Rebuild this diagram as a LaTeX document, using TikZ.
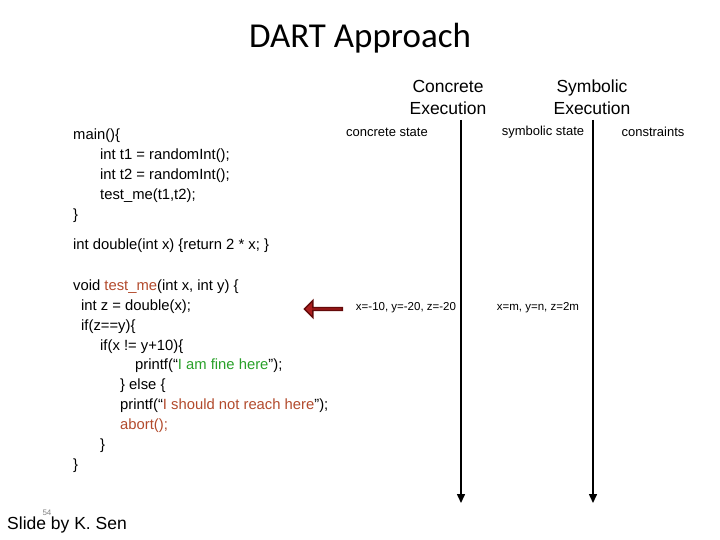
\documentclass[tikz,border=0pt]{standalone}
\usepackage{fontspec}
\setmainfont{Liberation Sans}
\newfontfamily\titlefont{Carlito}
\usetikzlibrary{arrows.meta,shapes.arrows}
\definecolor{codered}{RGB}{178,74,44}
\definecolor{codegreen}{RGB}{40,160,40}
\definecolor{arrowdark}{RGB}{100,10,10}
\definecolor{arrowred}{RGB}{170,30,30}

\tikzset{
  code/.style={anchor=west, inner sep=0pt, font=\fontsize{14.8}{16}\selectfont},
  head/.style={align=center, inner sep=0pt, font=\fontsize{17.5}{22}\selectfont},
  colhead/.style={inner sep=0pt, font=\fontsize{13}{15}\selectfont},
  state/.style={inner sep=0pt, font=\fontsize{11.5}{13}\selectfont},
  timeline/.style={-{Triangle[length=9pt,width=8pt]}, line width=1.5pt}
}

\begin{document}
\begin{tikzpicture}[x=1pt, y=-1pt]
    \useasboundingbox (0,0) rectangle (720,540);

    % Title
    \node[font=\titlefont\fontsize{35}{38}\selectfont] (title) at (360,38) {DART Approach};

    % Column headings
    \node[head] (conc) at (448,97) {Concrete\\Execution};
    \node[head] (symb) at (592,97) {Symbolic\\Execution};
    \node[colhead] (cstate) at (387,132) {concrete state};
    \node[colhead] (sstate) at (543,132) {symbolic state};
    \node[colhead] (cons) at (653,132) {constraints};

    % Time lines
    \coordinate (ctop) at (461,120);
    \coordinate (cbot) at (461,503);
    \coordinate (stop) at (593,120);
    \coordinate (sbot) at (593,503);
    \draw[timeline] (ctop) -- (cbot);
    \draw[timeline] (stop) -- (sbot);

    % Program
    \node[code] (l1) at (73,136) {main()\{};
    \node[code] (l2) at (100,156) {int t1 = randomInt();};
    \node[code] (l3) at (100,176) {int t2 = randomInt();};
    \node[code] (l4) at (100,196) {test\_me(t1,t2);};
    \node[code] (l5) at (73,216) {\}};
    \node[code] (l6) at (73,246) {int double(int x) \{return 2 * x; \}};
    \node[code] (l7) at (73,287) {void \textcolor{codered}{test\_me}(int x, int y) \{};
    \node[code] (l8) at (81,307) {int z = double(x);};
    \node[code] (l9) at (81,327) {if(z==y)\{};
    \node[code] (l10) at (100,347) {if(x != y+10)\{};
    \node[code] (l11) at (135,366) {printf(``\textcolor{codegreen}{I am fine here}'');};
    \node[code] (l12) at (120,386) {\} else \{};
    \node[code] (l13) at (120,406) {printf(``\textcolor{codered}{I should not reach here}'');};
    \node[code] (l14) at (120,426) {\textcolor{codered}{abort();}};
    \node[code] (l15) at (100,446) {\}};
    \node[code] (l16) at (73,466) {\}};

    % Current line marker
    \node[single arrow, shape border rotate=180, draw=arrowdark, fill=arrowred,
          minimum height=38pt, minimum width=17pt, single arrow head extend=4pt,
          inner sep=0pt, line width=1.5pt] (pc) at (324,309) {};

    % States
    \node[state] (cval) at (406,308) {x=-10, y=-20, z=-20};
    \node[state] (sval) at (538,308) {x=m, y=n, z=2m};

    % Footer
    \node[font=\fontsize{8}{9}\selectfont, text=gray] (pg) at (47,513) {54};
    \node[font=\fontsize{17.5}{19}\selectfont, anchor=west, inner sep=0pt] (credit) at (7,525) {Slide by K. Sen};
\end{tikzpicture}
\end{document}
